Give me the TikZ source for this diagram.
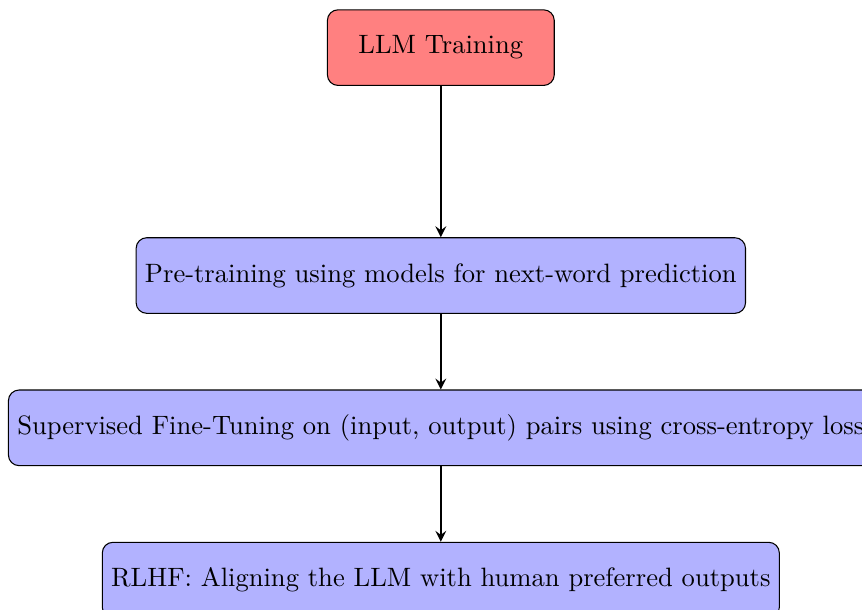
\documentclass[tikz,border=0pt]{standalone}
\usepackage{tikz}
\usetikzlibrary{arrows.meta,positioning}

\begin{document}
\begin{tikzpicture}[
    topbox/.style={draw,rounded corners,fill=red!50,minimum width=3cm,minimum height=1cm},
    stagebox/.style={draw,rounded corners,fill=blue!30,minimum width=3cm,minimum height=1cm},
    flow/.style={-stealth,thick}]
  \useasboundingbox (-5.83,0.63) rectangle (5.57,-7.43);
  \node[topbox] (train) at (0,0) {LLM Training};
  % the three training stages
  \node[stagebox,below=2cm of train] (pretrain) {Pre-training using models for next-word prediction};
  \node[stagebox,below=1cm of pretrain] (sft) {Supervised Fine-Tuning on (input, output) pairs using cross-entropy loss};
  \node[stagebox,below=1cm of sft] (rlhf) {RLHF: Aligning the LLM with human preferred outputs};
  \draw[flow] (train) -- (pretrain);
  \draw[flow] (pretrain) -- (sft);
  \draw[flow] (sft) -- (rlhf);
\end{tikzpicture}
\end{document}
